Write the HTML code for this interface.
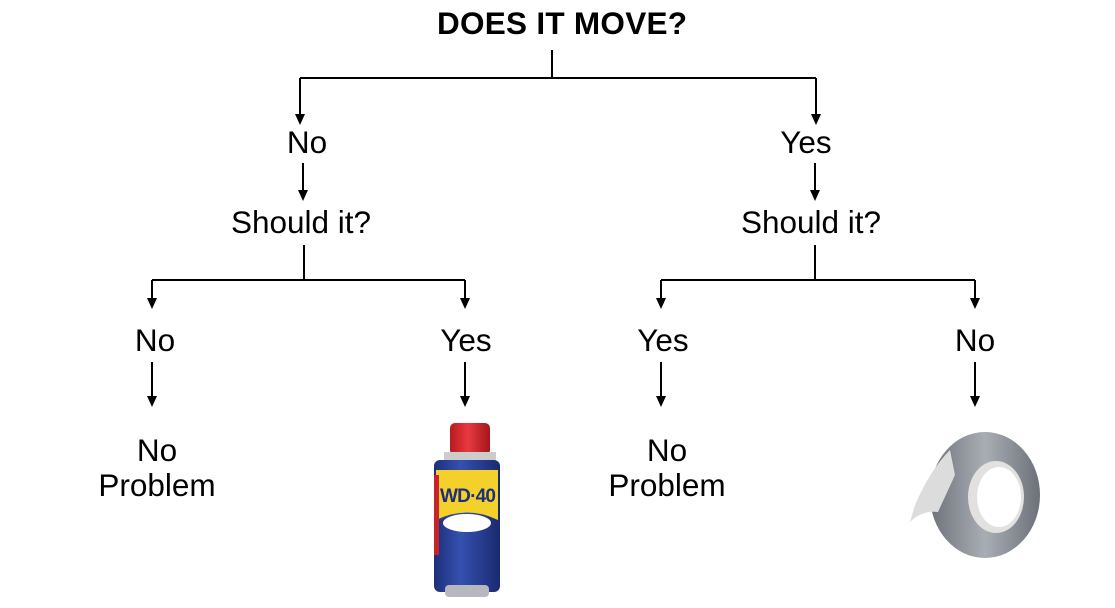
<!DOCTYPE html>
<html><head><style>body{margin:0;background:#fff}svg{display:block}text{font-family:"Liberation Sans",Arial,sans-serif;fill:#000}</style></head><body>
<svg width="1115" height="608" viewBox="0 0 1115 608">
<defs>
<linearGradient id="can" x1="0" x2="1"><stop offset="0" stop-color="#1d2f7a"/><stop offset=".4" stop-color="#3550b0"/><stop offset="1" stop-color="#1a2a70"/></linearGradient>
<linearGradient id="cap" x1="0" x2="1"><stop offset="0" stop-color="#b81a1f"/><stop offset=".45" stop-color="#e8393f"/><stop offset="1" stop-color="#a3161b"/></linearGradient>
<linearGradient id="tp" x1="0" x2="1"><stop offset="0" stop-color="#6e737b"/><stop offset=".5" stop-color="#a9adb4"/><stop offset="1" stop-color="#6c7078"/></linearGradient></defs>
<g stroke="#000" stroke-width="2" fill="none">
<path d="M552 50V78M300 78H816"/>
<path d="M300 78V116M816 78V116M303 163V192M815 163V192"/>
<path d="M304 245V280M152 280H465M815 245V280M661 280H975"/>
<path d="M152 280V300M465 280V300M661 280V300M975 280V300"/>
<path d="M152 362V398M465 362V398M661 362V398M975 362V398"/>
</g>
<g fill="#000">
<path d="M295 114h10l-5 11z M811 114h10l-5 11z M298 190h10l-5 11z M810 190h10l-5 11z"/>
<path d="M147 298h10l-5 11z M460 298h10l-5 11z M656 298h10l-5 11z M970 298h10l-5 11z"/>
<path d="M147 396h10l-5 11z M460 396h10l-5 11z M656 396h10l-5 11z M970 396h10l-5 11z"/>
</g>
<g font-size="31.5" text-anchor="middle">
<text x="562" y="34" font-weight="bold" font-size="31.5" textLength="250">DOES IT MOVE?</text>
<text x="307" y="153">No</text><text x="806" y="153">Yes</text>
<text x="301" y="233">Should it?</text><text x="811" y="233">Should it?</text>
<text x="155" y="351">No</text><text x="466" y="351">Yes</text><text x="663" y="351">Yes</text><text x="975" y="351">No</text>
<text x="157" y="461">No</text><text x="157" y="496">Problem</text>
<text x="667" y="461">No</text><text x="667" y="496">Problem</text>
</g>
<rect x="450" y="423" width="40" height="32" rx="5" fill="url(#cap)"/>
<rect x="444" y="452" width="52" height="10" fill="#ccc"/>
<rect x="434" y="460" width="66" height="132" rx="6" fill="url(#can)"/>
<path d="M436 470H498V520Q467 505 436 520Z" fill="#f3d12a"/>
<text x="468" y="502" font-size="19" font-weight="bold" text-anchor="middle" style="fill:#1d2f7a" textLength="56">WD·40</text>
<ellipse cx="467" cy="523" rx="24" ry="9" fill="#fff"/>
<rect x="434" y="475" width="5" height="80" fill="#c8232a"/>
<rect x="445" y="585" width="44" height="12" rx="4" fill="#b7b7c0"/>
<ellipse cx="985" cy="495" rx="55" ry="63" fill="url(#tp)"/>
<ellipse cx="996" cy="497" rx="28" ry="36" fill="#e3e1df"/>
<ellipse cx="999" cy="497" rx="22" ry="30" fill="#fff"/>
<path d="M950 450Q930 470 915 505L910 522Q922 510 938 512L955 475Z" fill="#dcdcdc"/>
</svg>
</body></html>
